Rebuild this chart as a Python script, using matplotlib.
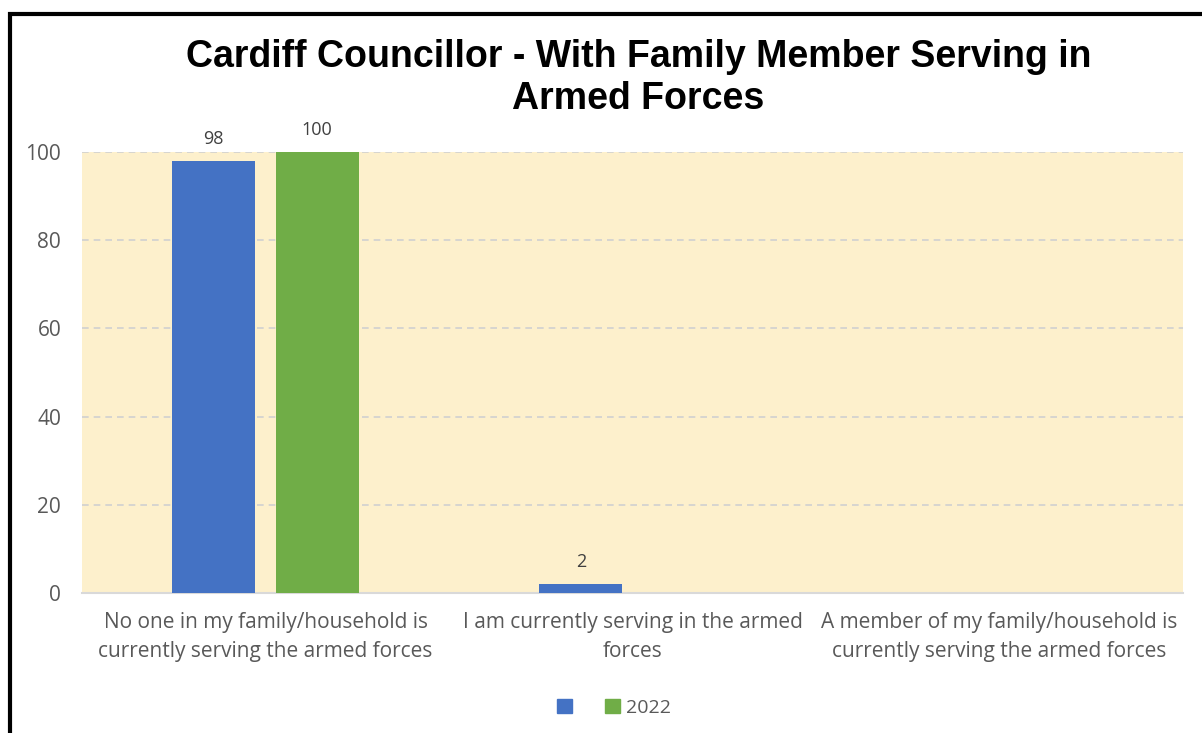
import matplotlib
matplotlib.use("Agg")
import matplotlib.pyplot as plt
from matplotlib.patches import Rectangle, Patch
import numpy as np

categories = ["No one in my family/household is\ncurrently serving the armed forces",
              "I am currently serving in the armed\nforces",
              "A member of my family/household is\ncurrently serving the armed forces"]
series_prev = [98, 2, None]
series_2022 = [100, None, None]
series_names = ["", "2022"]
yticks = [0, 20, 40, 60, 80, 100]

blue = "#4472C4"
green = "#70AD47"
grey_txt = "#595959"
lab_font = ["Open Sans", "DejaVu Sans"]

fig = plt.figure(figsize=(12.02, 7.33), dpi=100)
fig.patch.set_facecolor("white")
W, H = 1202, 733
ax = fig.add_axes([82 / W, 1 - 593 / H, (1183 - 82) / W, (593 - 152) / H])
ax.set_facecolor("#FDF0CC")

x = np.arange(len(categories))
bw = 0.226
off = 0.141
vals1 = [v if v is not None else 0 for v in series_prev]
vals2 = [v if v is not None else 0 for v in series_2022]
ax.bar(x - off, vals1, bw, color=blue, zorder=3)
ax.bar(x + off, vals2, bw, color=green, zorder=3)
for xs, ser in ((x - off, series_prev), (x + off, series_2022)):
    for xi, v in zip(xs, ser):
        if v is not None:
            ax.text(xi, v + 2.9, str(v), ha="center", va="bottom", fontsize=13,
                    color="#404040", family=lab_font)

ax.set_xlim(-0.5, 2.5)
ax.set_ylim(0, 100)
ax.set_yticks(yticks)
ax.set_yticklabels([str(t) for t in yticks], fontsize=15, color=grey_txt, family=lab_font)
ax.set_xticks(x)
ax.set_xticklabels(categories, fontsize=15, color=grey_txt, family=lab_font, linespacing=1.45)
ax.tick_params(axis="both", length=0)
ax.tick_params(axis="y", pad=15)
ax.tick_params(axis="x", pad=14)
for t in yticks[1:]:
    ax.axhline(t, color="#D0D0D0", lw=1.2, ls=(0, (4, 3)), zorder=1)
for s in ["top", "right", "left"]:
    ax.spines[s].set_visible(False)
ax.spines["bottom"].set_color("#D9D9D9")
ax.spines["bottom"].set_linewidth(1.5)

fig.text(0.531, 1 - 78 / H, "Cardiff Councillor - With Family Member Serving in\nArmed Forces",
         ha="center", va="center", fontsize=27, fontweight="bold",
         family=["Liberation Sans", "DejaVu Sans"], linespacing=1.22)

handles = [Patch(color=blue, label=series_names[0]), Patch(color=green, label=series_names[1])]
leg = fig.legend(handles=handles, loc="center", bbox_to_anchor=(614 / W, 1 - 708 / H),
                 ncol=2, frameon=False, prop={"family": lab_font[0], "size": 14},
                 handlelength=0.75, handleheight=0.75, columnspacing=1.4, handletextpad=0.3)
for t in leg.get_texts():
    t.set_color(grey_txt)

fig.patches.append(Rectangle((10.5 / W, -0.05), 1.2, 1 - 14.5 / H + 0.05,
                             transform=fig.transFigure, fill=False,
                             edgecolor="black", linewidth=3, figure=fig))

fig.savefig("out.png", dpi=100)
